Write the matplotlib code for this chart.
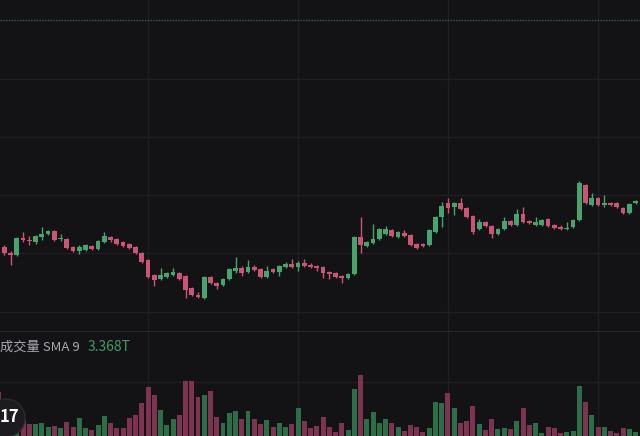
import numpy as np
import matplotlib.pyplot as plt
from matplotlib.patches import Circle

plt.rcParams['font.family'] = ['Noto Sans CJK SC', 'DejaVu Sans']

# daily candles (index points)
opens = [3061, 3053, 3047, 3045, 3062, 3060, 3058, 3063, 3066, 3069,
         3061, 3061, 3053, 3049, 3050, 3054, 3051, 3058, 3063, 3061,
         3058, 3056, 3053, 3047, 3040, 3025, 3021, 3023, 3025, 3027,
         3024, 3012, 3005, 3002, 3023, 3017, 3015, 3021, 3029, 3032,
         3028, 3033, 3031, 3023, 3031, 3028, 3033, 3036, 3033, 3037,
         3035, 3034, 3033, 3028, 3027, 3024, 3022, 3026, 3063, 3054,
         3057, 3061, 3066, 3070, 3063, 3067, 3065, 3056, 3056, 3055,
         3068, 3083, 3097, 3093, 3097, 3092, 3084, 3071, 3078, 3074,
         3066, 3071, 3079, 3075, 3086, 3079, 3075, 3075, 3081, 3075,
         3073, 3071, 3073, 3080, 3115, 3095, 3102, 3095, 3097, 3097,
         3092, 3087, 3097]
highs = [3063, 3055, 3049, 3063, 3068, 3064, 3065, 3073, 3070, 3070,
         3066, 3062, 3054, 3055, 3056, 3055, 3060, 3068, 3064, 3062,
         3059, 3057, 3054, 3048, 3041, 3026, 3032, 3028, 3032, 3028,
         3025, 3013, 3008, 3024, 3024, 3018, 3022, 3032, 3043, 3034,
         3040, 3035, 3032, 3034, 3032, 3035, 3038, 3041, 3039, 3041,
         3037, 3035, 3034, 3029, 3028, 3025, 3027, 3064, 3083, 3059,
         3076, 3072, 3074, 3071, 3069, 3070, 3066, 3057, 3057, 3071,
         3084, 3098, 3102, 3098, 3102, 3093, 3085, 3081, 3079, 3075,
         3072, 3083, 3080, 3091, 3093, 3080, 3083, 3081, 3082, 3076,
         3075, 3078, 3081, 3119, 3116, 3107, 3103, 3105, 3098, 3098,
         3093, 3097, 3100]
lows = [3052, 3045, 3035, 3044, 3058, 3055, 3056, 3060, 3065, 3059,
        3059, 3051, 3048, 3046, 3049, 3050, 3050, 3057, 3058, 3055,
        3053, 3051, 3046, 3037, 3022, 3014, 3020, 3022, 3024, 3020,
        3002, 3004, 3002, 3001, 3016, 3011, 3014, 3020, 3027, 3024,
        3027, 3029, 3022, 3022, 3027, 3024, 3032, 3032, 3029, 3033,
        3032, 3029, 3022, 3021, 3022, 3017, 3021, 3025, 3047, 3053,
        3056, 3060, 3065, 3063, 3062, 3063, 3054, 3051, 3053, 3054,
        3067, 3073, 3087, 3085, 3090, 3082, 3066, 3070, 3073, 3062,
        3065, 3070, 3074, 3074, 3077, 3076, 3074, 3074, 3073, 3071,
        3070, 3070, 3072, 3079, 3096, 3094, 3094, 3093, 3094, 3092,
        3086, 3086, 3096]
closes = [3054, 3047, 3045, 3062, 3060, 3059, 3064, 3066, 3069, 3060,
          3062, 3052, 3049, 3053, 3055, 3051, 3059, 3064, 3060, 3056,
          3054, 3052, 3047, 3038, 3023, 3020, 3025, 3027, 3028, 3021,
          3010, 3005, 3003, 3023, 3017, 3014, 3021, 3031, 3032, 3027,
          3033, 3030, 3023, 3029, 3028, 3034, 3036, 3033, 3037, 3034,
          3033, 3032, 3027, 3026, 3023, 3022, 3026, 3063, 3055, 3058,
          3061, 3071, 3071, 3064, 3068, 3064, 3055, 3052, 3054, 3070,
          3083, 3094, 3092, 3097, 3091, 3083, 3068, 3078, 3074, 3066,
          3071, 3079, 3075, 3086, 3078, 3077, 3078, 3080, 3074, 3072,
          3071, 3072, 3080, 3117, 3097, 3102, 3095, 3097, 3095, 3093,
          3087, 3096, 3099]
# volume in trillions
volumes = [8.2, 5.0, 3.6, 2.0, 3.2, 2.5, 2.5, 2.7, 2.0, 2.1,
           1.8, 2.9, 2.0, 3.6, 1.8, 1.4, 2.3, 3.9, 2.7, 1.8,
           1.8, 3.6, 4.1, 6.3, 9.1, 7.7, 5.0, 2.3, 3.4, 4.1,
           10.2, 10.2, 7.3, 7.7, 8.4, 3.8, 2.7, 4.5, 4.8, 3.4,
           4.8, 3.4, 2.5, 3.2, 2.0, 2.7, 2.0, 2.5, 5.4, 3.0,
           1.8, 2.1, 3.8, 2.0, 1.1, 2.7, 1.4, 8.8, 11.3, 3.4,
           4.6, 2.7, 3.4, 2.7, 2.0, 1.3, 2.3, 2.0, 1.1, 1.8,
           6.4, 6.3, 8.0, 5.4, 2.7, 3.0, 5.7, 2.5, 1.4, 3.4,
           1.6, 1.8, 1.6, 3.0, 5.4, 2.3, 2.7, 0.9, 2.0, 1.8,
           0.9, 1.1, 1.3, 9.3, 6.4, 4.1, 2.0, 2.0, 1.3, 0.9,
           1.8, 1.6, 1.1]
sma_label = "成交量 SMA 9"
sma_value = "3.368T"
price_grid = [3221, 3163, 3105, 3047, 2988]
price_line = 3280
vol_grid = [10]
date_grid = [24, 48, 72, 96]

bg = '#131315'
grid_c = '#1f1f23'
up_c, down_c = '#45a56c', '#cc5577'
vup_c, vdown_c = '#2c6e48', '#7d3450'

o = np.array(opens); h = np.array(highs); l = np.array(lows); c = np.array(closes)
x = np.arange(len(o))
up = c >= o

fig = plt.figure(figsize=(6.4, 4.36), dpi=100, facecolor=bg)
ax = fig.add_axes([0, 104/436, 1, 332/436], facecolor=bg)
axv = fig.add_axes([0, 0, 1, 104/436], facecolor=bg)

for a in (ax, axv):
    a.set_xlim(0.32, 102.72)
    for s in a.spines.values():
        s.set_visible(False)
    a.set_xticks([]); a.set_yticks([])
    for d in date_grid:
        a.axvline(d, color=grid_c, lw=1, zorder=0)

for g in price_grid:
    ax.axhline(g, color=grid_c, lw=1, zorder=0)
ax.axhline(price_line, color='#2f6a4a', lw=1, ls=(0, (1, 1)), zorder=1)
ax.axhline(2968.5, color='#2a2a2f', lw=1.2, zorder=1)

cols = np.where(up, up_c, down_c)
ax.vlines(x, l, h, colors=cols, lw=1, zorder=2)
body = np.maximum(np.abs(c - o), 1.0)
ax.bar(x, body, bottom=np.minimum(o, c), width=0.78, color=cols, zorder=3)
ax.set_ylim(2968, 3300)

for g in vol_grid:
    axv.axhline(g, color=grid_c, lw=1, zorder=0)
axv.bar(x, volumes, width=0.8, color=np.where(up, vup_c, vdown_c), zorder=2)
axv.set_ylim(0.357, 18.93)

fig.text(0.5/640, 1 - 347/436, sma_label, color='#a8abb3', fontsize=9.5, va='center', ha='left')
fig.text(88/640, 1 - 347/436, sma_value, color='#3f9c66', fontsize=10, va='center', ha='left')

# TradingView badge, lower left
logo = Circle((6, 436 - 418), 19, transform=None, facecolor='#1c1c20',
              edgecolor='#2a2a30', lw=1, zorder=5)
fig.patches.append(logo)
fig.text(9/640, 1 - 417/436, "17", color='white', fontsize=12, fontweight='bold',
         fontstyle='italic', va='center', ha='center', zorder=6)

fig.savefig('out.png', dpi=100, facecolor=bg)
